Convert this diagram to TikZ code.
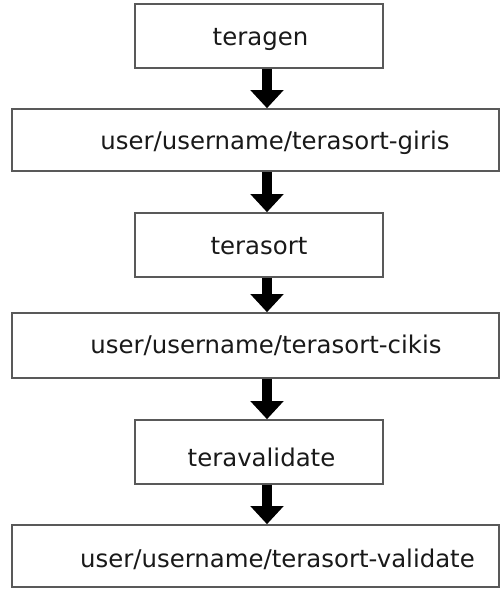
\documentclass[tikz,border=0pt]{standalone}
\usepackage{fontspec}
\setmainfont{DejaVu Sans}
\usetikzlibrary{arrows.meta}
\begin{document}
\begin{tikzpicture}[x=1pt,y=-1pt,
  boxbase/.style={draw=black!65,line width=1.6pt,fill=white,inner sep=0pt,rectangle},
  smallbox/.style={boxbase,minimum width=248pt,minimum height=64pt},
  bigbox/.style={boxbase,minimum width=487pt},
  txt/.style={anchor=base,inner sep=0pt,font=\fontsize{24.4}{29}\selectfont,text=black!90},
  flow/.style={line width=10pt,-{Triangle[width=32pt,length=18pt]},black}]
\useasboundingbox (0,0) rectangle (501,590);
\node[smallbox] (b1) at (259,36) {};
\node[bigbox,minimum height=62pt] (b2) at (255.5,140) {};
\node[smallbox] (b3) at (259,245) {};
\node[bigbox,minimum height=65pt] (b4) at (255.5,345.5) {};
\node[smallbox] (b5) at (259,452) {};
\node[bigbox,minimum height=62pt] (b6) at (255.5,556) {};
\node[txt] (t1) at (260.5,45) {teragen};
\node[txt] (t2) at (275,149) {user/username/terasort-giris};
\node[txt] (t3) at (259,254) {terasort};
\node[txt] (t4) at (266,353) {user/username/terasort-cikis};
\node[txt] (t5) at (261.5,466) {teravalidate};
\node[txt] (t6) at (277.5,567) {user/username/terasort-validate};
\coordinate (ax) at (267,0);
\draw[flow] (b1.south -| ax) -- (b2.north -| ax);
\draw[flow] (b2.south -| ax) -- (b3.north -| ax);
\draw[flow] (b3.south -| ax) -- (b4.north -| ax);
\draw[flow] (b4.south -| ax) -- (b5.north -| ax);
\draw[flow] (b5.south -| ax) -- (b6.north -| ax);
\end{tikzpicture}
\end{document}
